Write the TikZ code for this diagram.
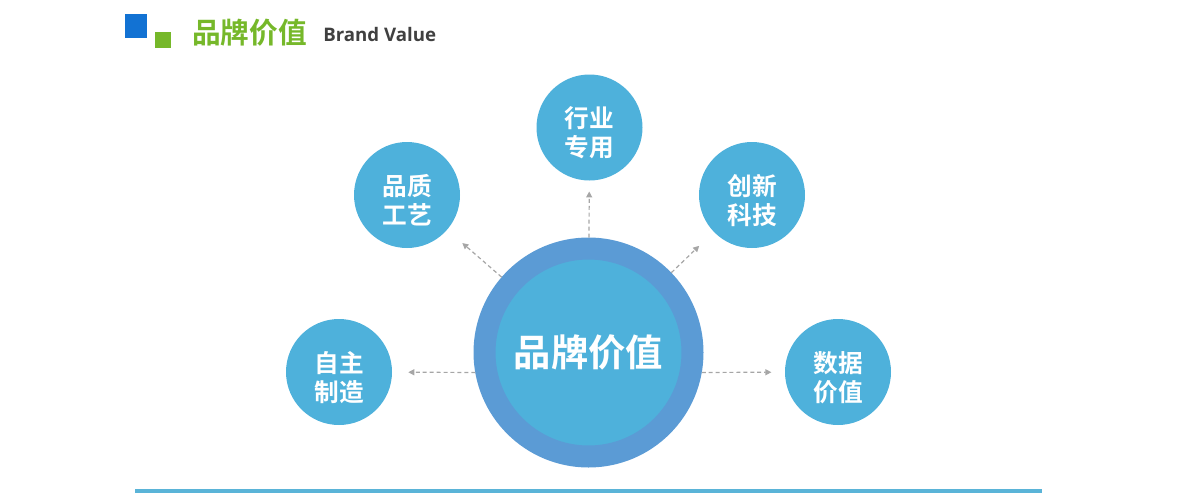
\documentclass[tikz,border=0pt]{standalone}
\usepackage{fontspec}
\setmainfont{Noto Sans}
\newfontfamily\cjkb{Noto Sans CJK SC Bold}
\newfontfamily\latb{Open Sans Bold}
\usetikzlibrary{arrows.meta}
\definecolor{ringblue}{HTML}{5B9BD5}
\definecolor{satblue}{HTML}{4EB1DB}
\definecolor{titlegreen}{HTML}{76B82A}
\definecolor{markblue}{HTML}{1272D3}
\definecolor{arrowgray}{HTML}{A6A6A6}
\definecolor{rulecyan}{HTML}{5AB4D8}

\begin{document}
\begin{tikzpicture}[x=0.75pt,y=-0.75pt,
  sat/.style={circle,fill=satblue,text=white,inner sep=0pt,minimum size=79.5pt,
    align=center,font=\cjkb\fontsize{18.5}{21.5}\selectfont},
  hub/.style={circle,fill=satblue,draw=ringblue,line width=16.5pt,inner sep=0pt,
    minimum size=156pt,text=white,font=\cjkb\fontsize{28}{30}\selectfont},
  link/.style={-{Triangle[length=4.5pt,width=4.5pt]},arrowgray,line width=0.9pt,
    dash pattern=on 3pt off 2.2pt,shorten >=#1},
  link/.default=9pt]
% 两行文字，首行加高使文字略下移
\newcommand{\twoline}[2]{\rule{0pt}{24pt}#1\\#2}
\useasboundingbox (0,0) rectangle (1200,500);
% ---------- 标题 ----------
\fill[markblue] (125,14) rectangle (147,38);
\fill[titlegreen] (155,32) rectangle (171,48);
\node[anchor=west,inner sep=0pt,text=titlegreen,font=\cjkb\fontsize{21.5}{24}\selectfont]
  (title) at (192,33) {品牌价值};
\node[anchor=base west,inner sep=0pt,text=black!75,font=\latb\fontsize{14}{16}\selectfont]
  (subtitle) at (323,41) {Brand Value};
% ---------- 中心与卫星 ----------
\node[hub] (brand) at (588.5,352.5) {品牌价值};
\node[sat] (trade) at (589.5,127.5) {\twoline{行业}{专用}};
\node[sat] (craft) at (407,195) {\twoline{品质}{工艺}};
\node[sat] (tech)  at (752,195) {\twoline{创新}{科技}};
\node[sat] (make)  at (339,372) {\twoline{自主}{制造}};
\node[sat] (data)  at (838,372) {\twoline{数据}{价值}};
% 虚线箭头
\draw[link=8pt]  (brand) -- (trade);
\draw[link=15pt] (brand) -- (craft);
\draw[link=15pt] (brand) -- (tech);
\draw[link=12pt] (brand.190) -- (make);
\draw[link=10pt] (brand.350) -- (data);
% ---------- 底线 ----------
\draw[rulecyan,line width=2.6pt] (135,491) -- (1042,491);
\end{tikzpicture}
\end{document}
